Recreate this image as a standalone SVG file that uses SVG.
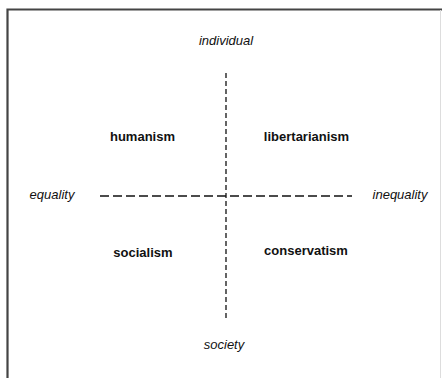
<svg xmlns="http://www.w3.org/2000/svg" width="442" height="378" viewBox="0 0 442 378">
<style>
.axis{stroke:#111;stroke-width:1.3;fill:none}
.v{stroke-dasharray:5,3}
.h{stroke-dasharray:9,4}
.pole{font-family:"Liberation Sans",Arial,sans-serif;font-size:13px;font-style:italic;fill:#111;text-anchor:middle}
.quad{font-family:"Liberation Sans",Arial,sans-serif;font-size:13px;font-weight:bold;fill:#111;text-anchor:middle}
</style>
<rect x="0" y="0" width="442" height="378" fill="#fff"/>
<path d="M7.5,378 V9.5 H442" fill="none" stroke="#444" stroke-width="2.2"/>
<line x1="440.5" y1="10" x2="440.5" y2="378" stroke="#ddd" stroke-width="1"/>
<g id="connectors">
<line class="axis v" x1="226" y1="73" x2="226" y2="321"/>
<line class="axis h" x1="100" y1="196" x2="352" y2="196"/>
</g>
<g id="individual"><text class="pole" x="226" y="45">individual</text></g>
<g id="society"><text class="pole" x="224" y="349">society</text></g>
<g id="equality"><text class="pole" x="52" y="199">equality</text></g>
<g id="inequality"><text class="pole" x="400" y="199">inequality</text></g>
<g id="humanism"><text class="quad" x="142.5" y="141">humanism</text></g>
<g id="libertarianism"><text class="quad" x="306.5" y="141">libertarianism</text></g>
<g id="socialism"><text class="quad" x="143" y="257">socialism</text></g>
<g id="conservatism"><text class="quad" x="306" y="255">conservatism</text></g>
</svg>
